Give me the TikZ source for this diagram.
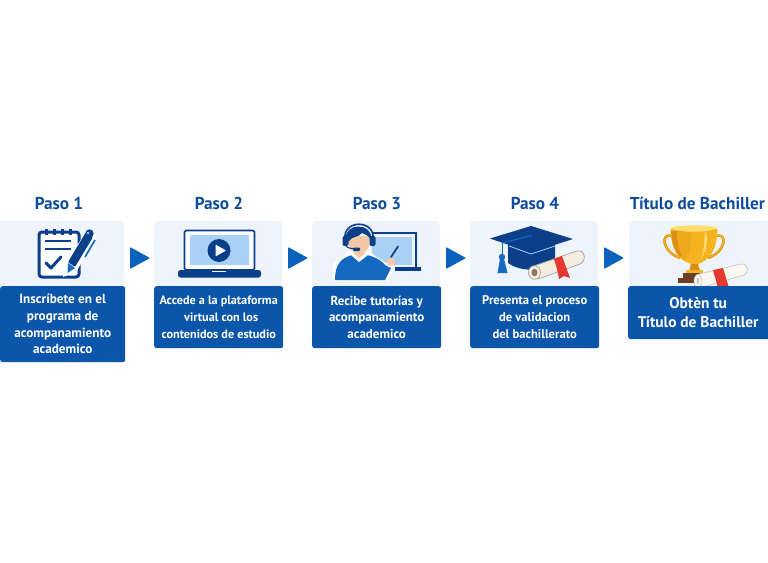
\documentclass[tikz,border=0pt]{standalone}
\usepackage{fontspec}
\setmainfont{PT Sans}
\definecolor{cardbg}{HTML}{EEF4FB}
\definecolor{boxblue}{HTML}{0B55AB}
\definecolor{titleblue}{HTML}{0D4C9E}
\definecolor{arrowblue}{HTML}{0B62BC}
\definecolor{navy}{HTML}{0B3F8A}
\definecolor{midblue}{HTML}{1669C1}
\definecolor{sky}{HTML}{A8D1F3}
\definecolor{skin}{HTML}{F3C9A8}
\definecolor{cream}{HTML}{F5EEDF}
\definecolor{ribbon}{HTML}{E5392F}
\definecolor{gold}{HTML}{F4B41F}
\definecolor{goldlight}{HTML}{FFDD70}
\definecolor{golddark}{HTML}{DB8F14}
\definecolor{brownbase}{HTML}{6B3F26}
\tikzset{
  card/.style={fill=cardbg,rounded corners=4pt},
  textbox/.style={fill=boxblue,rounded corners=2.5pt,text=white,align=center,inner sep=0pt,
    font=\fontsize{12.7}{16.6}\selectfont\bfseries,anchor=north west},
  steptitle/.style={text=titleblue,inner sep=0pt,font=\fontsize{17.2}{20}\selectfont\bfseries},
  flowarrow/.style={fill=arrowblue,rounded corners=0.8pt},
}
\begin{document}
\begin{tikzpicture}[x=1pt,y=-1pt]
\useasboundingbox (0,0) rectangle (768,562);
\fill[white] (0,0) rectangle (768,562);
% titles
\node[steptitle] (t1) at (59,203.5) {Paso 1};
\node[steptitle] (t2) at (219,203.5) {Paso 2};
\node[steptitle] (t3) at (377,203.5) {Paso 3};
\node[steptitle] (t4) at (535,203.5) {Paso 4};
\node[steptitle] (t5) at (697.5,203.5) {Título de Bachiller};
% cards
\fill[card] (-6,221) rectangle (124,292);
\fill[card] (154,221) rectangle (282,292);
\fill[card] (312,221) rectangle (440,292);
\fill[card] (470,221) rectangle (598,292);
\fill[card] (629,221) rectangle (775,292);
% icon 1: clipboard and pencil
\draw[navy,line width=3pt,rounded corners=3pt,fill=white] (39,232) rectangle (79,277);
\foreach \x in {45,53,61,69}{\fill[navy] (\x,228.5) rectangle ++(2.8,6);}
\draw[navy,line width=2.2pt] (45,241) -- (71,241) (45,249) -- (71,249);
\draw[navy,line width=3pt,line cap=round,line join=round] (46,263) -- (51,268) -- (61,257);
\fill[white] (89,229) -- (97,237) -- (76,272) -- (63,277) -- (65,261) -- cycle;
\fill[navy,rounded corners=1pt] (86,232) -- (93,237) -- (75,267) -- (68,262) -- cycle;
\fill[navy] (89.5,233.5) circle (4.2);
\fill[sky] (88,233) circle (1.3);
\fill[midblue] (68,263) -- (75,268) -- (67.5,273) -- cycle;
\draw[midblue,line width=1.7pt] (95,240) -- (85,257);
% icon 2: laptop
\draw[navy,line width=1.6pt,rounded corners=1.5pt,fill=white] (184.5,230.5) rectangle (254.5,270);
\fill[sky] (190,235) rectangle (249,265);
\fill[navy,rounded corners=2.5pt] (178,270) rectangle (261,277.5);
\fill[white] (212,270.5) rectangle (226,272);
\fill[navy] (219,250.5) circle (11.5);
\fill[white,rounded corners=0.5pt] (215.5,244.5) -- (226,250.5) -- (215.5,256.5) -- cycle;
% icon 3: tutor
\draw[navy,line width=2.4pt] (373,233) -- (416,233) -- (416,269);
\fill[sky] (372,237) rectangle (412,265);
\fill[navy] (395,267) rectangle (421,270.5);
\fill[white] (333,281) -- (333,263) -- (350,251) -- (368,251) -- (378,258) -- (386,263) -- (395,267) -- (388,281) -- cycle;
\fill[midblue] (335,280) .. controls (335,263) and (342,258) .. (352,255) -- (367,255) .. controls (376,257) and (382,261) .. (385,265) -- (391,268) -- (385,280) -- cycle;
\fill[white] (351,255) -- (359,262) -- (368,255) -- (365,251) -- (354,251) -- cycle;
\fill[skin] (354,248) -- (365,248) -- (365,254) -- (359,258) -- (354,254) -- cycle;
\fill[skin] (348,236) .. controls (348,250) and (352,253) .. (359,253) .. controls (366,253) and (370,250) .. (370,236) -- cycle;
\fill[navy] (346,240) .. controls (343,222) and (374,222) .. (371,240) .. controls (368,235) and (365,234) .. (362,233) .. controls (358,238) and (352,236) .. (349,241) -- cycle;
\draw[navy,line width=1.6pt] (345,240) .. controls (342,219) and (376,219) .. (373,240);
\fill[navy,rounded corners=2pt] (342.5,236) rectangle (348.5,246);
\fill[navy,rounded corners=2pt] (369.5,236) rectangle (375.5,246);
\draw[navy,line width=1.1pt] (346,245) .. controls (347,249) and (351,248) .. (357,249);
\fill[navy,rounded corners=1pt] (353,247.5) rectangle (360,251);
\fill[skin] (391,262) circle (4.2);
\draw[navy,line width=1.7pt,line cap=round] (391,257) -- (398,246.5);
% icon 4: cap and diploma
\fill[navy] (508,243) -- (508,263) .. controls (520,272) and (545,272) .. (555,263) -- (555,243) -- cycle;
\draw[sky,line width=0.8pt] (509,246) -- (531,254) -- (555,246);
\fill[navy] (490,238.5) -- (531,226) -- (573,239) -- (531,252.5) -- cycle;
\draw[midblue,line width=1.2pt] (502,243) -- (532,235.5);
\draw[midblue,line width=1pt] (502,243) -- (502,258);
\fill[midblue] (502,257) circle (3.2);
\fill[midblue] (500,259) -- (504,259) -- (507.5,273) -- (497.5,273) -- cycle;
\draw[gray!75,line width=0.7pt,fill=cream,line join=round] (535,265.5) -- (577,251) .. controls (585,249) and (587,261) .. (580,264) -- (538,279) -- cycle;
\draw[gray!75,line width=0.7pt,fill=cream] (534.5,272.5) circle (6 and 6.8);
\fill[brownbase!70!cream] (534.5,272.5) circle (3 and 3.8);
\fill[ribbon] (554,259) -- (562,256) -- (566,267) -- (570,278) -- (564,276) -- (559,279) -- (557,269) -- cycle;
% icon 5: trophy and diploma
\draw[golddark,line width=2.6pt] (672,236) .. controls (660,232) and (662,252) .. (680,258);
\draw[gold,line width=1.2pt] (672,236) .. controls (660,232) and (662,252) .. (680,258);
\draw[golddark,line width=2.6pt] (716,236) .. controls (728,232) and (726,252) .. (708,258);
\draw[gold,line width=1.2pt] (716,236) .. controls (728,232) and (726,252) .. (708,258);
\fill[gold] (670.5,229) -- (717.5,229) .. controls (717,250) and (710,260) .. (698,264) -- (691,264) .. controls (678,260) and (671,250) .. (670.5,229) -- cycle;
\fill[golddark] (691,231) .. controls (690,248) and (688,258) .. (680,257) .. controls (674,250) and (672,242) .. (671,231) -- cycle;
\fill[gold!70!golddark] (691,231) .. controls (691,248) and (689,258) .. (684,260) .. controls (679,252) and (677,242) .. (677,231) -- cycle;
\fill[goldlight] (705,232) .. controls (708,232) and (708,250) .. (701,259) .. controls (705,248) and (704,240) .. (705,232) -- cycle;
\fill[goldlight] (670.5,228) .. controls (680,233) and (708,233) .. (717.5,228) .. controls (712,224.5) and (676,224.5) .. (670.5,228) -- cycle;
\fill[golddark] (691,264) -- (698,264) -- (700,271) -- (689,271) -- cycle;
\fill[gold] (686,270) rectangle (703,273);
\fill[brownbase] (683,273) rectangle (700,278);
\fill[brownbase] (678,278) rectangle (700,283);
\draw[gray!55,line width=0.5pt,fill=cream!45!white] (697,274.5) -- (741,264) .. controls (749,263) and (749,273) .. (744,275) -- (699,288) -- cycle;
\draw[gray!55,line width=0.5pt,fill=cream!45!white] (698,281) circle (4 and 6.5);
\fill[gray!40] (698,281) circle (1.5 and 3.5);
\fill[ribbon] (713,270) -- (723,268) -- (729,288) -- (718,288) -- cycle;
% text boxes
\node[textbox,minimum width=125pt,minimum height=76pt,font=\fontsize{13.2}{16.6}\selectfont\bfseries] (b1) at (0,286) {Inscríbete en el\\programa de\\acompanamiento\\academico};
\node[textbox,minimum width=129pt,minimum height=62pt,font=\fontsize{12.2}{16.6}\selectfont\bfseries] (b2) at (154,286) {Accede a la plataforma\\\hspace*{5pt}virtual con los\\contenidos de estudio};
\node[textbox,minimum width=129pt,minimum height=62pt,font=\fontsize{13}{16.6}\selectfont\bfseries] (b3) at (312,286) {Recibe tutorías y\\acompanamiento\\academico};
\node[textbox,minimum width=129pt,minimum height=62pt,font=\fontsize{12.6}{16.6}\selectfont\bfseries] (b4) at (470,286) {Presenta el proceso\\de validacion\\del bachillerato};
\node[textbox,minimum width=146pt,minimum height=53pt,font=\fontsize{15.4}{18.4}\selectfont\bfseries] (b5) at (628,286) {\hspace*{-6pt}Obtèn tu\\\hspace*{-6pt}Título de Bachiller};
% arrows
\coordinate (a1) at (130,247);
\coordinate (a2) at (288,247);
\coordinate (a3) at (446,247);
\coordinate (a4) at (604,247);
\foreach \n in {a1,a2,a3,a4}{\fill[flowarrow] (\n) -- ++(20,11) -- ++(-20,11) -- cycle;}
\end{tikzpicture}
\end{document}
